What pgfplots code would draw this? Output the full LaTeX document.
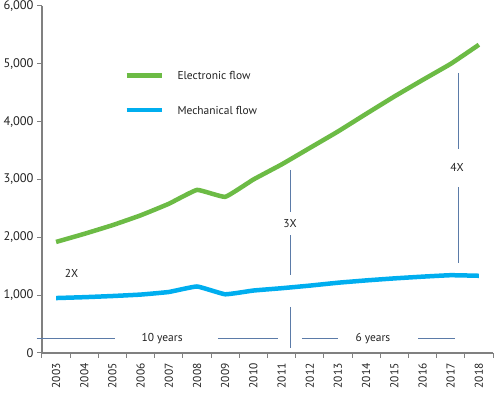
\documentclass[border=0pt]{standalone}
\usepackage{pgfplots}
\pgfplotsset{compat=1.18}
\usepackage{fontspec}
\setmainfont{PT Sans}
\definecolor{egreen}{HTML}{6CBB45}
\definecolor{mblue}{HTML}{00AEEF}
\definecolor{annot}{HTML}{5B7BA8}
\definecolor{axgray}{HTML}{808080}
\definecolor{txt}{HTML}{222222}
\begin{document}
\begin{tikzpicture}
\begin{axis}[name=ax,
  scale only axis, width=451bp, height=347bp,
  xmin=2002.5, xmax=2018.5, ymin=0, ymax=6000,
  clip=false,
  axis lines*=left,
  axis line style={axgray, line width=1.1bp},
  xtick={2003,...,2018},
  major x tick style={draw=none},
  minor xtick={2002.5,2003.5,...,2018.5},
  minor x tick style={axgray, line width=1bp},
  minor tick length=5bp,
  ytick={0,1000,...,6000},
  y tick style={axgray, line width=1bp},
  major tick length=5bp,
  tick align=outside,
  /pgf/number format/assume math mode=true,
  xticklabel style={rotate=90, anchor=east, font=\fontsize{11.5}{12}\selectfont, text=txt, /pgf/number format/1000 sep={}, xshift=-2bp},
  yticklabel style={font=\fontsize{12.5}{13}\selectfont, text=txt, /pgf/number format/1000 sep={,}},
]
% Electronic flow
\addplot[egreen, line width=4.5bp, line join=round, smooth, tension=0.2] coordinates {
(2003,1920) (2004,2060) (2005,2210) (2006,2380) (2007,2580) (2008,2820)
(2009,2700) (2010,3000) (2011,3260) (2012,3545) (2013,3830) (2014,4135)
(2015,4435) (2016,4720) (2017,5000) (2018,5330)};
% Mechanical flow
\addplot[mblue, line width=4.5bp, line join=round, smooth, tension=0.2] coordinates {
(2003,950) (2004,965) (2005,985) (2006,1010) (2007,1055) (2008,1150)
(2009,1015) (2010,1080) (2011,1120) (2012,1165) (2013,1215) (2014,1255)
(2015,1290) (2016,1320) (2017,1345) (2018,1335)};
% legend
\addplot[egreen, line width=4.5bp] coordinates {(2005.5,4800) (2006.76,4800)};
\addplot[mblue, line width=4.5bp] coordinates {(2005.5,4200) (2006.76,4200)};
\node[anchor=west, text=txt, font=\fontsize{11.5}{12}\selectfont, inner sep=0pt] at (axis cs:2007.3,4800) {Electronic flow};
\node[anchor=west, text=txt, font=\fontsize{11.5}{12}\selectfont, inner sep=0pt] at (axis cs:2007.3,4200) {Mechanical flow};
% annotation lines
\addplot[annot, line width=0.9bp] coordinates {(2011.33,3166) (2011.33,2440)};
\addplot[annot, line width=0.9bp] coordinates {(2011.33,2040) (2011.33,1350)};
\addplot[annot, line width=0.9bp] coordinates {(2011.33,796) (2011.33,87)};
\addplot[annot, line width=0.9bp] coordinates {(2017.29,4845) (2017.29,3530)};
\addplot[annot, line width=0.9bp] coordinates {(2017.29,2870) (2017.29,1557)};
\addplot[annot, line width=0.9bp] coordinates {(2002.31,247) (2005.09,247)};
\addplot[annot, line width=0.9bp] coordinates {(2008.74,247) (2010.87,247)};
\addplot[annot, line width=0.9bp] coordinates {(2011.72,247) (2013.0,247)};
\addplot[annot, line width=0.9bp] coordinates {(2015.84,247) (2017.15,247)};
\node[text=txt, font=\fontsize{11.5}{12}\selectfont] at (axis cs:2003.55,1370) {2X};
\node[text=txt, font=\fontsize{11.5}{12}\selectfont] at (axis cs:2011.3,2240) {3X};
\node[text=txt, font=\fontsize{11.5}{12}\selectfont] at (axis cs:2017.22,3200) {4X};
\node[text=txt, font=\fontsize{11.5}{12}\selectfont] at (axis cs:2006.76,247) {10 years};
\node[text=txt, font=\fontsize{11.5}{12}\selectfont] at (axis cs:2014.24,247) {6 years};
\end{axis}
\pgfresetboundingbox
\useasboundingbox ([shift={(-42bp,-40bp)}]ax.south west) rectangle ([shift={(7bp,6bp)}]ax.north east);
\end{tikzpicture}
\end{document}
